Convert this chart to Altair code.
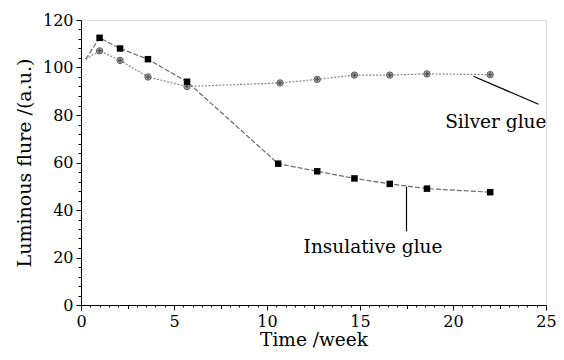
import altair as alt
import pandas as pd

# ---- data ----
start_week = 0.25
start_val = 103.5

ins_weeks = [1.0, 2.1, 3.6, 5.7, 10.6, 12.7, 14.7, 16.6, 18.6, 22.0]
ins_vals = [112.5, 108.0, 103.5, 94.0, 59.5, 56.3, 53.3, 51.0, 49.0, 47.5]

sil_weeks = [1.0, 2.1, 3.6, 5.7, 10.7, 12.7, 14.7, 16.6, 18.6, 22.0]
sil_vals = [107.0, 103.0, 96.0, 92.0, 93.5, 95.0, 96.8, 96.8, 97.3, 97.0]

x_ticks = [i * 0.5 for i in range(51)]
y_ticks = [i * 4 for i in range(31)]

label_names = ["Silver glue", "Insulative glue"]
label_x = [22.3, 15.7]
label_y = [77.0, 24.5]
leader_x1 = [21.1, 17.5]
leader_y1 = [96.3, 49.8]
leader_x2 = [24.6, 17.5]
leader_y2 = [84.5, 31.0]

FONT = "DejaVu Serif"

ins_df = pd.DataFrame({"week": [start_week] + ins_weeks, "val": [start_val] + ins_vals})
sil_df = pd.DataFrame({"week": [start_week] + sil_weeks, "val": [start_val] + sil_vals})
ins_pts = pd.DataFrame({"week": ins_weeks, "val": ins_vals})
sil_pts = pd.DataFrame({"week": sil_weeks, "val": sil_vals})
lab_df = pd.DataFrame({"name": label_names, "week": label_x, "val": label_y})
lead_df = pd.DataFrame({"week": leader_x1, "val": leader_y1, "week2": leader_x2, "val2": leader_y2})

xscale = alt.Scale(domain=[0, 25], nice=False, zero=False)
yscale = alt.Scale(domain=[0, 120], nice=False)

xaxis = alt.Axis(
    title="Time /week", values=x_ticks,
    labelExpr="datum.value % 5 === 0 ? format(datum.value, 'd') : ''",
    tickSize={"condition": [{"test": "datum.value % 5 === 0", "value": 5},
                            {"test": "datum.value % 2.5 === 0", "value": 3.5}], "value": 2},
    grid=False, domainColor="black", tickColor="black",
    labelFont=FONT, titleFont=FONT, labelFontSize=16, titleFontSize=18.5,
    titleFontWeight="normal", labelColor="black", titleColor="black",
    labelPadding=3, titlePadding=1, labelOverlap=False, labelFlush=False,
)
yaxis = alt.Axis(
    title="Luminous flure /(a.u.)", values=y_ticks,
    labelExpr="datum.value % 20 === 0 ? format(datum.value, 'd') : ''",
    tickSize={"condition": {"test": "datum.value % 20 === 0", "value": 5}, "value": 3},
    grid=False, domainColor="black", tickColor="black",
    labelFont=FONT, titleFont=FONT, labelFontSize=16, titleFontSize=19,
    titleFontWeight="normal", labelColor="black", titleColor="black",
    labelPadding=3, titlePadding=8, labelOverlap=False, labelFlush=False,
)

X = alt.X("week:Q", scale=xscale, axis=xaxis)
Y = alt.Y("val:Q", scale=yscale, axis=yaxis)

sil_line = alt.Chart(sil_df).mark_line(color="#8a8a8a", strokeWidth=1.2, strokeDash=[2, 1.5]).encode(x=X, y=Y)
ins_line = alt.Chart(ins_df).mark_line(color="#6a6a6a", strokeWidth=1.2, strokeDash=[5, 2]).encode(x=X, y=Y)

sil_mark = alt.Chart(sil_pts).mark_point(shape="circle", filled=True, size=40, color="#bbbbbb",
                                          stroke="#555555", strokeWidth=1, opacity=1).encode(x=X, y=Y)
sil_cross = alt.Chart(sil_pts).mark_point(shape="cross", filled=True, size=18, color="#555555",
                                           opacity=1).encode(x=X, y=Y)
ins_mark = alt.Chart(ins_pts).mark_point(shape="square", filled=True, size=42, color="black",
                                          opacity=1).encode(x=X, y=Y)

leaders = alt.Chart(lead_df).mark_rule(color="black", strokeWidth=1.2).encode(
    x=X, y=Y, x2="week2:Q", y2="val2:Q")

labels = alt.Chart(lab_df).mark_text(font=FONT, fontSize=18.5, color="black").encode(
    x=X, y=Y, text="name:N")

chart = alt.layer(sil_line, ins_line, sil_mark, sil_cross, ins_mark, leaders, labels).properties(
    width=465, height=285,
    autosize=alt.AutoSizeParams(type="none"),
    padding={"left": 73, "top": 12, "right": 10, "bottom": 47},
).configure_view(stroke=None).configure(background="white")

chart.save("out.html", embed_options={"renderer": "svg", "actions": False})
